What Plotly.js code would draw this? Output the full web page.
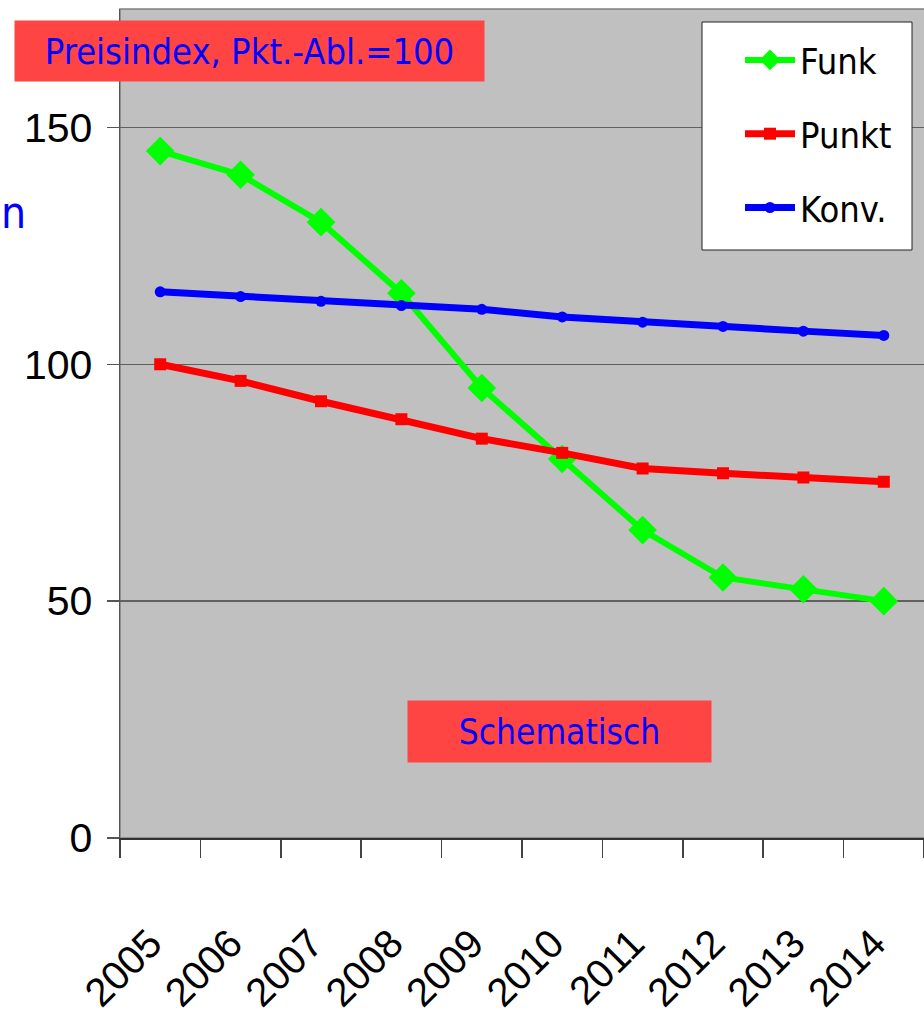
<!DOCTYPE html>
<html><head><meta charset="utf-8">
<script src="https://cdn.plot.ly/plotly-3.0.1.min.js"></script>
<style>html,body{margin:0;padding:0;background:#fff;overflow:hidden}</style>
</head><body>
<div id="chart" style="width:924px;height:1018px"></div>
<script>
const years = ['2005','2006','2007','2008','2009','2010','2011','2012','2013','2014'];
const funk  = [145, 140, 130, 115, 95, 80, 65, 55, 52.5, 50];
const punkt = [100, 96.5, 92.2, 88.4, 84.3, 81.3, 78, 77, 76.1, 75.2];
const konv  = [115.3, 114.3, 113.3, 112.4, 111.6, 110, 108.9, 108, 107, 106.1];
const seriesNames = ['Funk', 'Punkt', 'Konv.'];
const yTicks = [0, 50, 100, 150];

const arial = 'Liberation Sans, Arial, sans-serif';
const cond = 'DejaVu Sans Condensed, sans-serif';

// plot area pixel geometry helpers
const L = 120, R = 924, T = 9, B = 838;
const px = x => (x - L) / (R - L);
const py = y => (B - y) / (B - T);

const traces = [
  {x: years, y: funk, name: seriesNames[0], type: 'scatter', mode: 'lines+markers',
   legendgroup: 'g1',
   line: {color: '#00FF00', width: 6}, marker: {symbol: 'diamond', size: 22, color: '#00FF00'}},
  {x: years, y: punkt, name: seriesNames[1], type: 'scatter', mode: 'lines+markers',
   legendgroup: 'g2',
   line: {color: '#FF0000', width: 7}, marker: {symbol: 'square', size: 12, color: '#FF0000'}},
  {x: years, y: konv, name: seriesNames[2], type: 'scatter', mode: 'lines+markers',
   legendgroup: 'g3',
   line: {color: '#0000FF', width: 7}, marker: {symbol: 'circle', size: 11, color: '#0000FF'}}
];

const layout = {
  width: 924, height: 1018,
  margin: {l: L, r: 924 - R, t: T, b: 1018 - B, pad: 0},
  paper_bgcolor: '#FFFFFF',
  plot_bgcolor: '#C0C0C0',
  showlegend: true,
  legend: {
    x: px(740), y: py(30), xanchor: 'left', yanchor: 'top',
    bgcolor: 'rgba(0,0,0,0)', borderwidth: 0,
    font: {family: cond, size: 36, color: '#000'},
    tracegroupgap: 24, itemwidth: 50
  },
  xaxis: {
    type: 'category', tickson: 'boundaries',
    ticks: 'outside', ticklen: 18, tickwidth: 1.5, tickcolor: '#444',
    showline: true, linecolor: '#333', linewidth: 2,
    showgrid: false, zeroline: false,
    tickangle: -45, ticklabelstandoff: 64, ticklabelshift: -10,
    tickfont: {family: arial, size: 40, color: '#000'},
    range: [-0.5, 9.5], fixedrange: true
  },
  yaxis: {
    range: [0, 175], tickvals: yTicks, ticktext: yTicks.map(String),
    ticks: 'outside', ticklen: 12, tickwidth: 1.5, tickcolor: '#555',
    showline: true, linecolor: '#555', linewidth: 1.5,
    showgrid: true, gridcolor: '#606060', gridwidth: 1.5,
    zeroline: false, ticklabelstandoff: 6,
    tickfont: {family: arial, size: 41, color: '#000'},
    fixedrange: true
  },
  shapes: [
    {type: 'rect', xref: 'paper', yref: 'paper', x0: 0, x1: 1.01, y0: 0, y1: 1,
     line: {color: '#808080', width: 1.5}, layer: 'below'},
    {type: 'rect', xref: 'paper', yref: 'paper', x0: px(702), x1: px(912), y0: py(250), y1: py(22),
     fillcolor: '#FFFFFF', line: {color: '#222', width: 1}, layer: 'above'}
  ],
  annotations: [
    {xref: 'paper', yref: 'paper', x: px(249.5), y: py(51), xanchor: 'center', yanchor: 'middle',
     text: 'Preisindex, Pkt.-Abl.=100', showarrow: false, bgcolor: '#FF4444',
     width: 467, height: 58, font: {family: cond, size: 36, color: '#0000FF'}},
    {xref: 'paper', yref: 'paper', x: px(559.5), y: py(731.5), xanchor: 'center', yanchor: 'middle',
     text: 'Schematisch', showarrow: false, bgcolor: '#FF4444',
     width: 301, height: 59, font: {family: cond, size: 35, color: '#0000FF'}},
    {xref: 'paper', yref: 'paper', x: px(0), y: py(212), xanchor: 'left', yanchor: 'middle',
     text: 'n', showarrow: false, borderpad: 0, font: {family: cond, size: 44, color: '#0000FF'}}
  ]
};

Plotly.newPlot('chart', traces, layout, {displayModeBar: false, staticPlot: true});
</script>
</body></html>
